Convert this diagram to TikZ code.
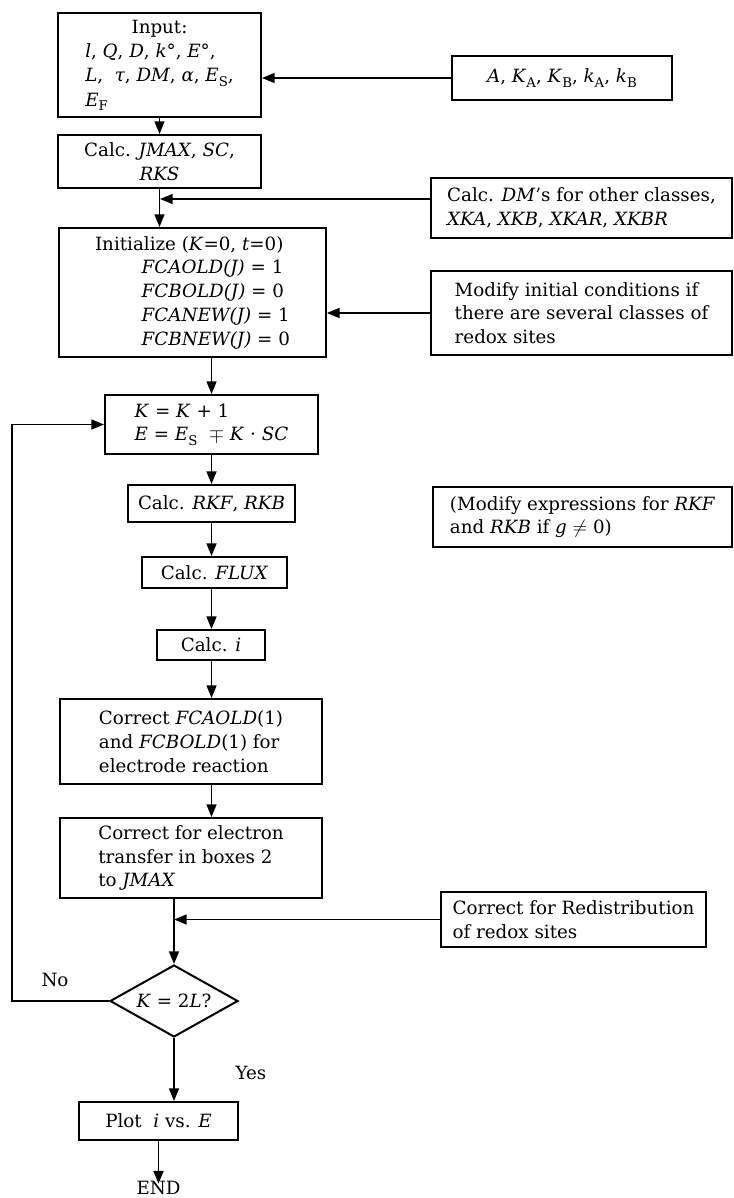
\documentclass[tikz,border=0pt]{standalone}
\usepackage{fontspec}
\setmainfont{DejaVu Serif}
\usetikzlibrary{arrows.meta,shapes.geometric}
\newcommand\vi[1]{\textit{#1}}
\newcommand\sbs[1]{\raisebox{-0.45ex}{\fontsize{10}{10}\selectfont #1}}
\begin{document}
\begin{tikzpicture}[x=0.75pt,y=-0.75pt,
  box/.style={draw, line width=1.5pt, inner sep=0pt, font=\fontsize{13.7}{17.8}\selectfont},
  arr/.style={line width=1.2pt, -{Triangle[length=9.5pt,width=7.5pt]}},
  lbl/.style={font=\fontsize{13.7}{17.8}\selectfont, inner sep=0pt}]
\path[fill=white] (0,0) rectangle (733,1198);
\useasboundingbox (0,0) rectangle (733,1198);

\node[box, minimum width=152.25pt, minimum height=78pt] (in) at (159.5,65) {\renewcommand\arraystretch{1.02}\begin{tabular}{@{}l@{}}\multicolumn{1}{@{}c@{}}{Input:}\\ \vi{l}, \vi{Q}, \vi{D}, \vi{k}°, \vi{E}°,\\ \vi{L}, \ \vi{τ}, \vi{DM}, \vi{α}, \vi{E}\sbs{S},\\ \vi{E}\sbs{F}\end{tabular}};
\node[box, minimum width=165pt, minimum height=33pt] (a) at (562,78) {\vi{A}, \vi{K}\sbs{A}, \vi{K}\sbs{B}, \vi{k}\sbs{A}, \vi{k}\sbs{B}};
\node[box, minimum width=152.25pt, minimum height=39.75pt, align=center] (jmax) at (159.5,161.5) {Calc. \vi{JMAX}, \vi{SC},\\\vi{RKS}};
\node[box, minimum width=225.75pt, minimum height=45pt, align=left] (dm) at (581.5,208) {Calc. \vi{DM}’s for other classes,\\\vi{XKA}, \vi{XKB}, \vi{XKAR}, \vi{XKBR}};
\node[box, minimum width=200pt, minimum height=96.75pt, align=left] (init) at (192.5,292.5) {Initialize (\vi{K}=0, \vi{t}=0)\\\hspace*{35pt}\vi{FCAOLD(J)} = 1\\\hspace*{35pt}\vi{FCBOLD(J)} = 0\\\hspace*{35pt}\vi{FCANEW(J)} = 1\\\hspace*{35pt}\vi{FCBNEW(J)} = 0};
\node[box, minimum width=225.75pt, minimum height=63pt, align=left] (mod) at (581.5,313) {Modify initial conditions if\\there are several classes of\\redox sites};
\node[box, minimum width=159.75pt, minimum height=44.25pt, align=left] (k) at (211.5,424.5) {\vi{K} = \vi{K} + 1\\\vi{E} = \vi{E}\sbs{S} \ $\mp$ \vi{K} · \vi{SC}};
\node[box, minimum width=125.25pt, minimum height=27.75pt] (rkf) at (211.5,503.5) {Calc. \vi{RKF}, \vi{RKB}};
\node[box, minimum width=224.25pt, minimum height=45pt, align=left] (modr) at (582.5,517) {(Modify expressions for \vi{RKF}\\and \vi{RKB} if \vi{g} $\neq$ 0)};
\node[box, minimum width=108.75pt, minimum height=23.25pt] (flux) at (214.5,572.5) {Calc. \vi{FLUX}};
\node[box, minimum width=81pt, minimum height=22.5pt] (ci) at (211,645) {Calc. \vi{i}};
\node[box, minimum width=196.5pt, minimum height=63.75pt, align=left] (c1) at (191,741.5) {Correct \vi{FCAOLD}(1)\\and \vi{FCBOLD}(1) for\\electrode reaction};
\node[box, minimum width=196.5pt, minimum height=60pt, align=left] (c2) at (191,858) {Correct for electron\\transfer in boxes 2\\to \vi{JMAX}};
\node[box, minimum width=198.75pt, minimum height=41.25pt, align=left] (red) at (573.5,919.5) {Correct for Redistribution\\of redox sites};
\node[box, diamond, aspect=1.8, minimum width=96pt, minimum height=54pt] (dia) at (174,1001) {\vi{K} = 2\vi{L}?};
\node[box, minimum width=119.25pt, minimum height=28.5pt] (plot) at (158.5,1121) {Plot \ \vi{i} vs. \vi{E}};
\node[lbl] (endn) at (158.5,1188) {END};
\node[lbl] (no) at (55,980) {No};
\node[lbl] (yes) at (251,1073) {Yes};

\coordinate (j1) at (160,199);
\coordinate (lp) at (12,424.5);

\draw[arr] (a.west) -- (a.west -| in.east);
\draw[arr] (in.south) -- (jmax.north);
\draw[arr] (jmax.south) -- (jmax.south |- init.north);
\draw[arr] (dm.west |- j1) -- (j1);
\draw[arr] (mod.west) -- (mod.west -| init.east);
\draw[arr] (k.north |- init.south) -- (k.north);
\draw[arr] (k.south) -- (k.south |- rkf.north);
\draw[arr] (k.south |- rkf.south) -- (k.south |- flux.north);
\draw[arr] (k.south |- flux.south) -- (k.south |- ci.north);
\draw[arr] (k.south |- ci.south) -- (k.south |- c1.north);
\draw[arr] (k.south |- c1.south) -- (k.south |- c2.north);
\draw[arr] (dia.north |- c2.south) -- (dia.north);
\draw[arr] (red.west) -- (red.west -| dia.north);
\draw[arr] (dia.south) -- (dia.south |- plot.north);
\draw[arr] (plot.south) -- ([yshift=-2pt]endn.north);
\draw[arr] (dia.west) -| (lp) -- (k.west);
\end{tikzpicture}
\end{document}
